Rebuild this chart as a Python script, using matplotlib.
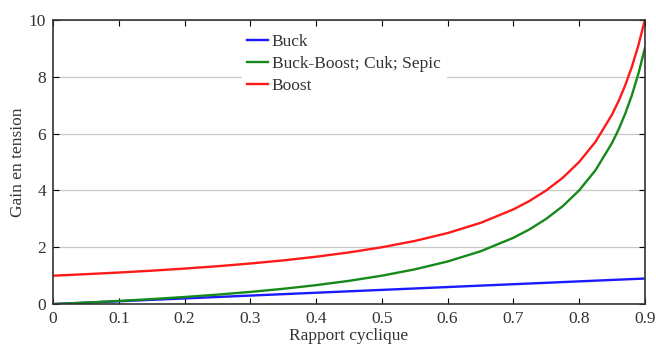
import matplotlib
matplotlib.use('Agg')
import matplotlib.pyplot as plt

# Duty cycle values and gains
rapport = [0.0, 0.05, 0.1, 0.15, 0.2, 0.25, 0.3, 0.35, 0.4, 0.45, 0.5, 0.55, 0.6,
           0.65, 0.7, 0.725, 0.75, 0.775, 0.8, 0.825, 0.85, 0.86, 0.87, 0.88, 0.89, 0.9]
buck = [0.0, 0.05, 0.1, 0.15, 0.2, 0.25, 0.3, 0.35, 0.4, 0.45, 0.5, 0.55, 0.6,
        0.65, 0.7, 0.725, 0.75, 0.775, 0.8, 0.825, 0.85, 0.86, 0.87, 0.88, 0.89, 0.9]
buck_boost = [0.0, 0.053, 0.111, 0.176, 0.25, 0.333, 0.429, 0.538, 0.667, 0.818, 1.0,
              1.222, 1.5, 1.857, 2.333, 2.636, 3.0, 3.444, 4.0, 4.714, 5.667, 6.143,
              6.692, 7.333, 8.091, 9.0]
boost = [1.0, 1.053, 1.111, 1.176, 1.25, 1.333, 1.429, 1.538, 1.667, 1.818, 2.0,
         2.222, 2.5, 2.857, 3.333, 3.636, 4.0, 4.444, 5.0, 5.714, 6.667, 7.143,
         7.692, 8.333, 9.091, 10.0]

labels = ['Buck', 'Buck-Boost; Cuk; Sepic', 'Boost']
colors = ['#1a1aff', '#15891a', '#ff1a1a']
xticks = [0, 0.1, 0.2, 0.3, 0.4, 0.5, 0.6, 0.7, 0.8, 0.9]
xticklabels = ['0', '0.1', '0.2', '0.3', '0.4', '0.5', '0.6', '0.7', '0.8', '0.9']
yticks = [0, 2, 4, 6, 8, 10]

plt.rcParams['font.family'] = ['Liberation Serif', 'DejaVu Serif']
plt.rcParams['font.size'] = 12

fig = plt.figure(figsize=(6.56, 3.44), dpi=100)
ax = fig.add_axes([0.081, 0.116, 0.902, 0.826])

for series, lab, col in zip([buck, buck_boost, boost], labels, colors):
    ax.plot(rapport, series, color=col, lw=1.7, label=lab)

ax.set_xlim(0, 0.9)
ax.set_ylim(0, 10)
ax.set_xticks(xticks)
ax.set_xticklabels(xticklabels)
ax.set_yticks(yticks)
ax.yaxis.grid(True, color='#c8c8c8', lw=0.9)
ax.set_axisbelow(True)
ax.tick_params(direction='in', top=True, right=True, length=4, labelsize=12.5, pad=5,
               labelcolor='#333333')
for sp in ax.spines.values():
    sp.set_linewidth(1.2)
    sp.set_color('#333333')

ax.set_xlabel('Rapport cyclique', fontsize=12.5, labelpad=1, color='#333333')
ax.set_ylabel('Gain en tension', fontsize=12.5, labelpad=2, color='#333333')

leg = ax.legend(loc='upper left', bbox_to_anchor=(0.305, 1.0), frameon=True,
                fancybox=False, edgecolor='white', framealpha=1, handlelength=1.2,
                handletextpad=0.2, labelspacing=0.35, borderpad=0.3, fontsize=12.5)
for t in leg.get_texts():
    t.set_color('#333333')

fig.savefig('out.png', dpi=100)
